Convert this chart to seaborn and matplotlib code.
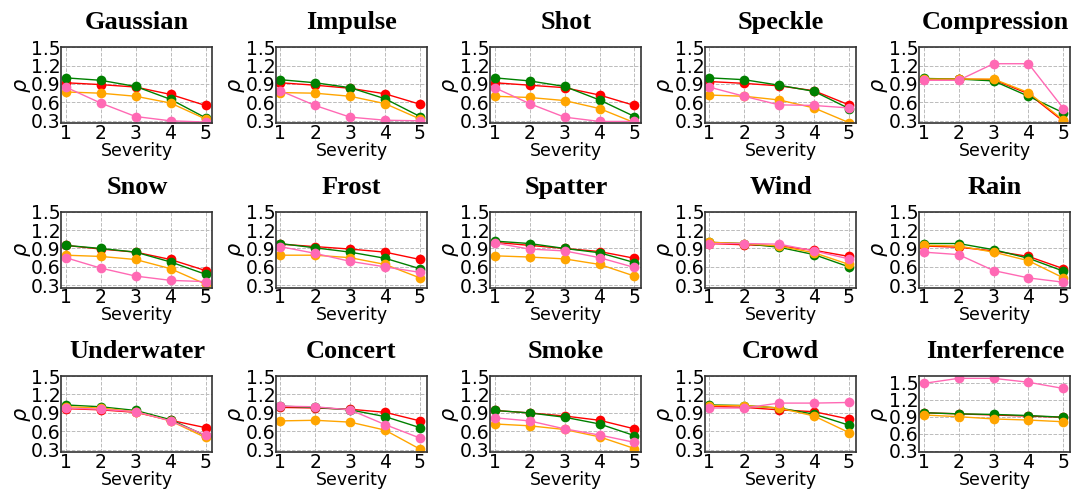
import numpy as np
import pandas as pd
import seaborn as sns
from matplotlib import pyplot as plt

# ===== data =====
severity = [1, 2, 3, 4, 5]
corruptions = ["Gaussian", "Impulse", "Shot", "Speckle", "Compression",
               "Snow", "Frost", "Spatter", "Wind", "Rain",
               "Underwater", "Concert", "Smoke", "Crowd", "Interference"]
series_names = ["red", "green", "orange", "pink"]
series_colors = ["red", "green", "orange", "hotpink"]

red = {
    "Gaussian": [0.92, 0.89, 0.85, 0.73, 0.55],
    "Impulse": [0.92, 0.88, 0.83, 0.74, 0.57],
    "Shot": [0.92, 0.88, 0.84, 0.72, 0.55],
    "Speckle": [0.94, 0.91, 0.87, 0.79, 0.56],
    "Compression": [0.98, 0.98, 0.97, 0.74, 0.29],
    "Snow": [0.95, 0.89, 0.84, 0.72, 0.54],
    "Frost": [0.97, 0.93, 0.89, 0.84, 0.72],
    "Spatter": [1.00, 0.95, 0.90, 0.85, 0.74],
    "Wind": [0.98, 0.96, 0.94, 0.87, 0.77],
    "Rain": [0.94, 0.92, 0.86, 0.77, 0.57],
    "Underwater": [0.97, 0.95, 0.91, 0.78, 0.66],
    "Concert": [0.99, 0.98, 0.96, 0.91, 0.77],
    "Smoke": [0.94, 0.90, 0.85, 0.78, 0.64],
    "Crowd": [1.01, 0.99, 0.95, 0.92, 0.80],
    "Interference": [0.97, 0.95, 0.93, 0.91, 0.89],
}
green = {
    "Gaussian": [1.00, 0.96, 0.86, 0.65, 0.35],
    "Impulse": [0.97, 0.92, 0.84, 0.66, 0.37],
    "Shot": [1.00, 0.95, 0.86, 0.64, 0.37],
    "Speckle": [1.00, 0.97, 0.88, 0.78, 0.50],
    "Compression": [0.99, 0.98, 0.95, 0.70, 0.43],
    "Snow": [0.95, 0.90, 0.84, 0.68, 0.48],
    "Frost": [0.98, 0.91, 0.84, 0.74, 0.57],
    "Spatter": [1.02, 0.98, 0.90, 0.83, 0.67],
    "Wind": [1.00, 0.98, 0.92, 0.80, 0.60],
    "Rain": [0.98, 0.98, 0.88, 0.74, 0.53],
    "Underwater": [1.03, 1.00, 0.94, 0.79, 0.53],
    "Concert": [1.01, 0.99, 0.95, 0.84, 0.66],
    "Smoke": [0.94, 0.90, 0.83, 0.72, 0.53],
    "Crowd": [1.03, 1.02, 0.98, 0.88, 0.70],
    "Interference": [0.97, 0.95, 0.94, 0.92, 0.89],
}
orange = {
    "Gaussian": [0.77, 0.75, 0.70, 0.59, 0.33],
    "Impulse": [0.76, 0.75, 0.70, 0.58, 0.33],
    "Shot": [0.70, 0.68, 0.63, 0.50, 0.27],
    "Speckle": [0.72, 0.70, 0.64, 0.51, 0.27],
    "Compression": [0.98, 0.98, 0.98, 0.76, 0.31],
    "Snow": [0.79, 0.77, 0.72, 0.57, 0.32],
    "Frost": [0.79, 0.79, 0.75, 0.64, 0.42],
    "Spatter": [0.78, 0.76, 0.73, 0.64, 0.45],
    "Wind": [1.00, 0.98, 0.94, 0.83, 0.64],
    "Rain": [0.95, 0.94, 0.84, 0.70, 0.42],
    "Underwater": [1.00, 0.98, 0.92, 0.77, 0.50],
    "Concert": [0.77, 0.78, 0.75, 0.62, 0.31],
    "Smoke": [0.72, 0.69, 0.63, 0.51, 0.32],
    "Crowd": [1.02, 1.02, 0.98, 0.85, 0.58],
    "Interference": [0.93, 0.90, 0.86, 0.84, 0.81],
}
pink = {
    "Gaussian": [0.85, 0.59, 0.37, 0.30, 0.28],
    "Impulse": [0.79, 0.55, 0.36, 0.31, 0.30],
    "Shot": [0.84, 0.58, 0.36, 0.29, 0.29],
    "Speckle": [0.85, 0.70, 0.56, 0.55, 0.51],
    "Compression": [0.96, 0.96, 1.23, 1.23, 0.50],
    "Snow": [0.75, 0.58, 0.45, 0.38, 0.36],
    "Frost": [0.93, 0.82, 0.69, 0.60, 0.51],
    "Spatter": [0.99, 0.89, 0.86, 0.75, 0.59],
    "Wind": [0.98, 0.98, 0.97, 0.86, 0.73],
    "Rain": [0.84, 0.80, 0.54, 0.42, 0.35],
    "Underwater": [0.98, 0.96, 0.92, 0.77, 0.54],
    "Concert": [1.01, 1.00, 0.95, 0.71, 0.49],
    "Smoke": [0.82, 0.77, 0.64, 0.54, 0.42],
    "Crowd": [0.98, 0.98, 1.06, 1.06, 1.07],
    "Interference": [1.49, 1.58, 1.58, 1.51, 1.40],
}
y_ticks = [0.3, 0.6, 0.9, 1.2, 1.5]

# ===== long table =====
rows = []
for name, table in zip(series_names, [red, green, orange, pink]):
    for c in corruptions:
        for s, v in zip(severity, table[c]):
            rows.append({"corruption": c, "series": name, "Severity": s, "rho": v})
df = pd.DataFrame(rows)

sns.set_style("whitegrid")
plt.rcParams['font.family'] = ['DejaVu Sans']
plt.rcParams['text.color'] = 'black'
plt.rcParams['axes.labelcolor'] = 'black'
plt.rcParams['xtick.color'] = 'black'
plt.rcParams['ytick.color'] = 'black'

fig, axes = plt.subplots(3, 5, figsize=(10.78, 4.91), dpi=100)
fig.subplots_adjust(left=0.057, right=0.993, top=0.904, bottom=0.079,
                    wspace=0.42, hspace=1.16)

for ax, c in zip(axes.flat, corruptions):
    sub = df[df["corruption"] == c]
    sns.lineplot(data=sub, x="Severity", y="rho", hue="series",
                 hue_order=series_names, palette=series_colors,
                 marker="o", markersize=7, markeredgewidth=0,
                 linewidth=1, legend=False, ax=ax)
    ax.set_title(c, fontsize=19, fontweight="bold", family="Liberation Serif", pad=13)
    ax.set_xlim(0.88, 5.2)
    top = max(1.5, sub["rho"].max() + 0.04)
    ax.set_ylim(0.26 if top <= 1.5 else 0.27, top)
    ax.set_xticks(severity)
    ax.set_yticks(y_ticks)
    ax.tick_params(labelsize=13.5, length=0, pad=0.5)
    ax.set_xlabel("Severity", fontsize=12.5, labelpad=-1)
    ax.set_ylabel(r"$\rho$", fontsize=15, labelpad=-1)
    ax.grid(True, linestyle="--", color="#bbbbbb", linewidth=0.7)
    for sp in ax.spines.values():
        sp.set_color("#333333")
        sp.set_linewidth(1.2)

plt.savefig("out.png", dpi=100)
